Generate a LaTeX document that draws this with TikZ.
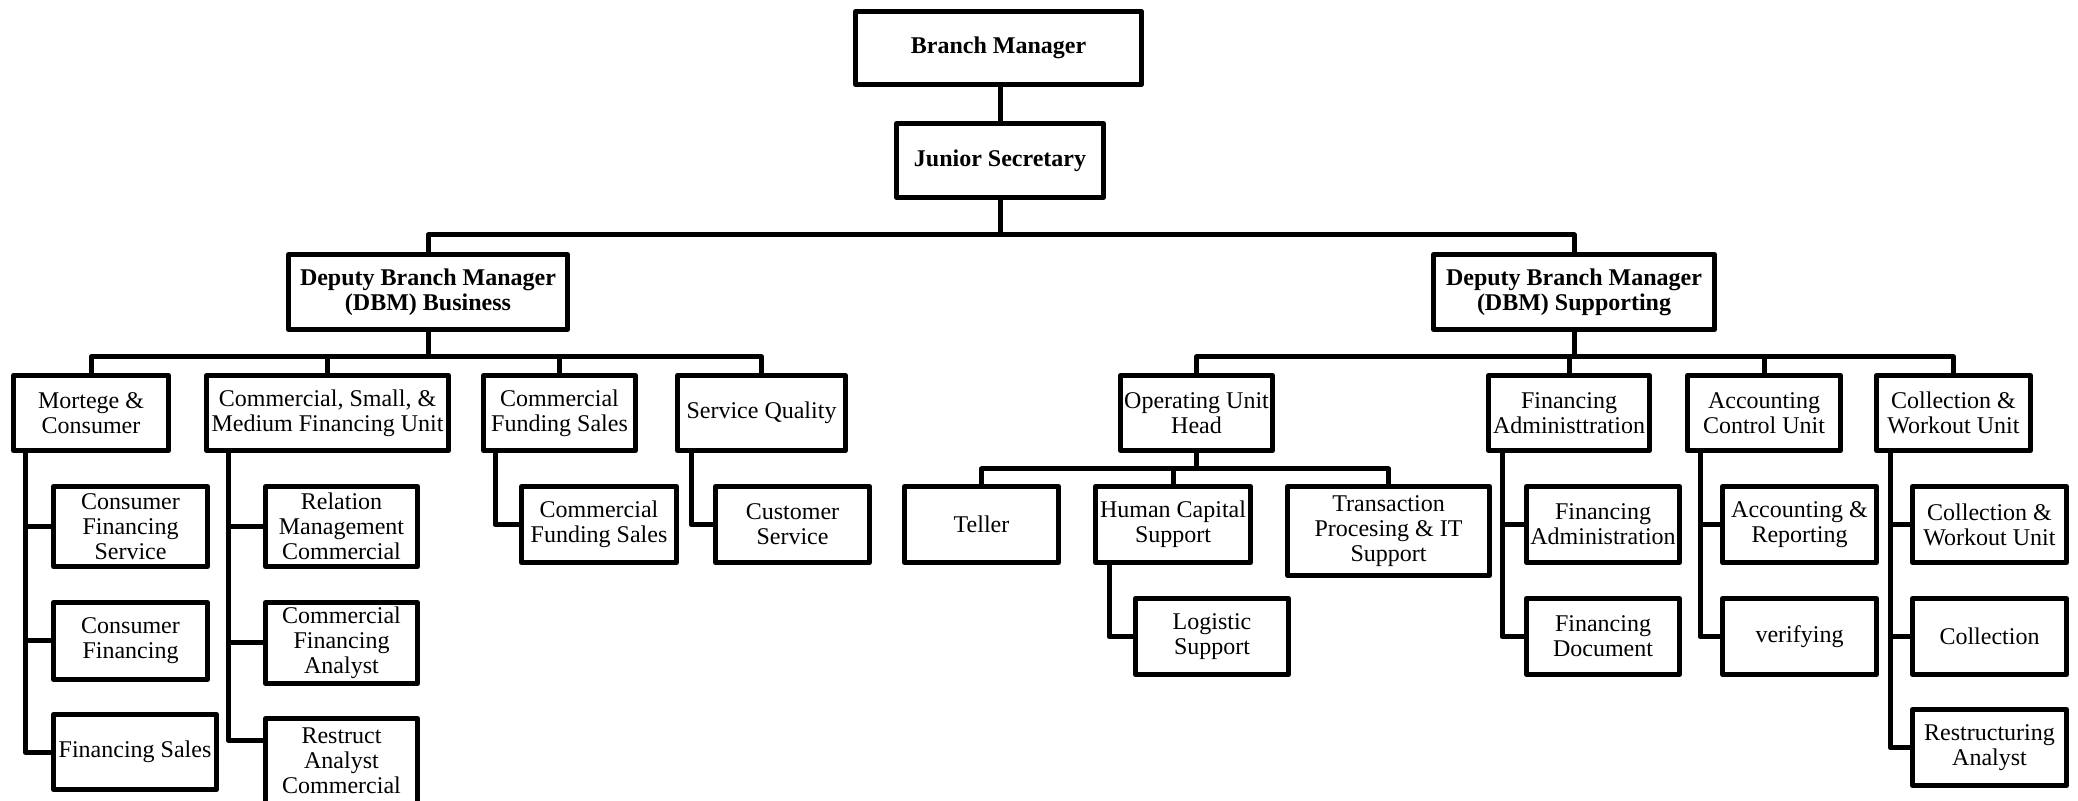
\documentclass[tikz,border=0pt]{standalone}
\usepackage{fontspec}
\setmainfont{Liberation Serif}
\tikzset{
  box/.style={draw, line width=2.5pt, line join=round, fill=white, align=center, inner sep=1pt,
    font=\fontsize{12}{12.5}\selectfont},
  bbox/.style={box, font=\fontsize{12}{12.5}\selectfont\bfseries},
  link/.style={line width=2.5pt, line join=round}
}
\newcommand{\bx}[7][box]{\node[#1, minimum width={(#5-#3-5)*0.5pt}, minimum height={(#6-#4-5)*0.5pt}] (#2) at ({(#3+#5)/2},{(#4+#6)/2}) {#7};}
\begin{document}
\begin{tikzpicture}[x=0.5pt, y=-0.5pt]
\useasboundingbox (0,0) rectangle (2078,801);
\clip (0,0) rectangle (2078,801);
\fill[white] (0,0) rectangle (2078,801);
% top
\bx[bbox]{bm}{853}{9}{1144}{87}{Branch Manager}
\bx[bbox]{js}{894}{121}{1106}{200}{Junior Secretary}
\bx[bbox]{dbmb}{286}{252}{570}{332}{Deputy Branch Manager\\(DBM) Business}
\bx[bbox]{dbms}{1431}{252}{1717}{332}{Deputy Branch Manager\\(DBM) Supporting}
% level 2 left
\bx{mc}{11}{373}{171}{453}{Mortege \&\\Consumer}
\bx{csm}{204}{373}{451}{453}{Commercial, Small, \&\\Medium Financing Unit}
\bx{cfs}{481}{373}{638}{453}{Commercial\\Funding Sales}
\bx{sq}{675}{373}{848}{453}{Service Quality}
% level 2 right
\bx{ouh}{1118}{373}{1275}{453}{Operating Unit\\Head}
\bx{fa}{1486}{373}{1652}{453}{Financing\\Administtration}
\bx{acu}{1685}{373}{1843}{453}{Accounting\\Control Unit}
\bx{cwu}{1874}{373}{2033}{453}{Collection \&\\Workout Unit}
% children left
\bx{cfsv}{51}{484}{210}{569}{Consumer\\Financing\\Service}
\bx{cf}{51}{600}{210}{682}{Consumer\\Financing}
\bx{fs}{51}{712}{219}{792}{Financing Sales}
\bx{rmc}{263}{484}{420}{569}{Relation\\Management\\Commercial}
\bx{cfa}{263}{600}{420}{686}{Commercial\\Financing\\Analyst}
\bx{rac}{263}{716}{420}{806}{Restruct\\Analyst\\Commercial}
\bx{cfs2}{519}{484}{679}{565}{Commercial\\Funding Sales}
\bx{cs}{713}{484}{872}{565}{Customer\\Service}
% children right
\bx{tel}{902}{484}{1061}{565}{Teller}
\bx{hcs}{1093}{484}{1253}{565}{Human Capital\\Support}
\bx{tpit}{1285}{484}{1492}{578}{Transaction\\Procesing \& IT\\Support}
\bx{ls}{1133}{596}{1291}{677}{Logistic\\Support}
\bx{fad}{1524}{484}{1682}{565}{Financing\\Administration}
\bx{fd}{1524}{596}{1682}{677}{Financing\\Document}
\bx{ar}{1720}{484}{1879}{565}{Accounting \&\\Reporting}
\bx{ver}{1720}{596}{1879}{677}{verifying}
\bx{cwu2}{1910}{484}{2069}{565}{Collection \&\\Workout Unit}
\bx{col}{1910}{596}{2069}{677}{Collection}
\bx{ra}{1910}{707}{2069}{788}{Restructuring\\Analyst}
% bus coordinates
\coordinate (bus1) at (0,235);
\coordinate (bus2) at (0,357);
\coordinate (bus3) at (0,469);
% connectors top
\draw[link] (js.north) -- (js.north |- bm.south);
\draw[link] (js.south) -- (js.south |- bus1);
\draw[link] (dbmb.north) -- (dbmb.north |- bus1) -- (dbms.north |- bus1) -- (dbms.north);
% level 2 buses
\draw[link] (dbmb.south) -- (dbmb.south |- bus2);
\draw[link] (mc.north) -- (mc.north |- bus2) -- (sq.north |- bus2) -- (sq.north);
\draw[link] (csm.north) -- (csm.north |- bus2);
\draw[link] (cfs.north) -- (cfs.north |- bus2);
\draw[link] (dbms.south) -- (dbms.south |- bus2);
\draw[link] (ouh.north) -- (ouh.north |- bus2) -- (cwu.north |- bus2) -- (cwu.north);
\draw[link] (fa.north) -- (fa.north |- bus2);
\draw[link] (acu.north) -- (acu.north |- bus2);
% operating unit bus
\draw[link] (ouh.south) -- (ouh.south |- bus3);
\draw[link] (tel.north) -- (tel.north |- bus3) -- (tpit.north |- bus3) -- (tpit.north);
\draw[link] (hcs.north) -- (hcs.north |- bus3);
% spines
\draw[link] ([xshift=7pt]mc.south west) |- (cfsv.west);
\draw[link] ([xshift=7pt]mc.south west) |- (cf.west);
\draw[link] ([xshift=7pt]mc.south west) |- (fs.west);
\draw[link] ([xshift=12pt]csm.south west) |- (rmc.west);
\draw[link] ([xshift=12pt]csm.south west) |- (cfa.west);
\draw[link] ([xshift=12pt]csm.south west) |- ([yshift=-12pt]rac.north west);
\draw[link] ([xshift=7pt]cfs.south west) |- (cfs2.west);
\draw[link] ([xshift=8pt]sq.south west) |- (cs.west);
\draw[link] ([xshift=8pt]hcs.south west) |- (ls.west);
\draw[link] ([xshift=8pt]fa.south west) |- (fad.west);
\draw[link] ([xshift=8pt]fa.south west) |- (fd.west);
\draw[link] ([xshift=7.5pt]acu.south west) |- (ar.west);
\draw[link] ([xshift=7.5pt]acu.south west) |- (ver.west);
\draw[link] ([xshift=8pt]cwu.south west) |- (cwu2.west);
\draw[link] ([xshift=8pt]cwu.south west) |- (col.west);
\draw[link] ([xshift=8pt]cwu.south west) |- (ra.west);
\end{tikzpicture}
\end{document}
